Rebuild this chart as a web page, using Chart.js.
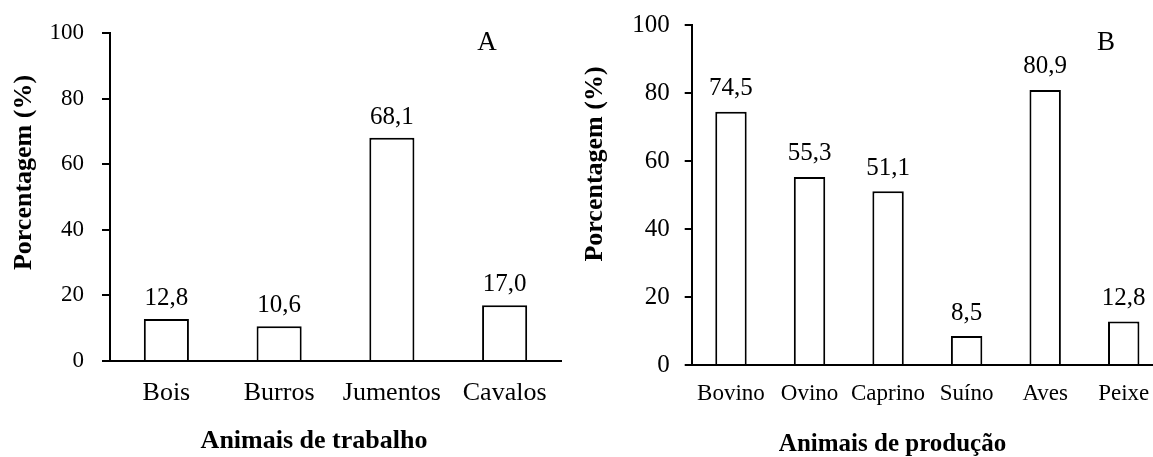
<!DOCTYPE html>
<html>
<head>
<meta charset="utf-8">
<script src="https://cdn.jsdelivr.net/npm/chart.js@4.4.1/dist/chart.umd.min.js"></script>
<style>
  html, body { margin: 0; padding: 0; background: #fff; overflow: hidden; }
  #wrap { position: relative; width: 1153px; height: 457px; overflow: hidden; }
  .panel { position: absolute; top: 0; height: 457px; }
  #panelA { left: 0; width: 575px; }
  #panelB { left: 575px; width: 600px; }
</style>
</head>
<body>
<div id="wrap">
  <div class="panel" id="panelA"><canvas id="chartA" width="575" height="457"></canvas></div>
  <div class="panel" id="panelB"><canvas id="chartB" width="600" height="457"></canvas></div>
</div>
<script>
// data
const workCategories = ['Bois', 'Burros', 'Jumentos', 'Cavalos'];
const workValues = [12.8, 10.6, 68.1, 17.0];
const prodCategories = ['Bovino', 'Ovino', 'Caprino', 'Suíno', 'Aves', 'Peixe'];
const prodValues = [74.5, 55.3, 51.1, 8.5, 80.9, 12.8];
const yTicks = [0, 20, 40, 60, 80, 100];

const SERIF = "'Liberation Serif', 'Times New Roman', Times, serif";
Chart.defaults.font.family = SERIF;
Chart.defaults.color = '#000';

const fmt = v => v.toFixed(1).replace('.', ',');

// value labels above each bar
const barLabels = {
  id: 'barLabels',
  afterDatasetsDraw(chart, args, opts) {
    const ctx = chart.ctx;
    const meta = chart.getDatasetMeta(0);
    const data = chart.data.datasets[0].data;
    ctx.save();
    ctx.font = opts.size + 'px ' + SERIF;
    ctx.fillStyle = '#000';
    ctx.textAlign = 'center';
    ctx.textBaseline = 'alphabetic';
    meta.data.forEach((bar, i) => {
      ctx.fillText(fmt(data[i]), bar.x, bar.y - opts.gap);
    });
    ctx.restore();
  }
};

// axis titles + panel letter
const panelText = {
  id: 'panelText',
  afterDraw(chart, args, opts) {
    const ctx = chart.ctx;
    ctx.save();
    ctx.fillStyle = '#000';
    ctx.textAlign = 'center';
    ctx.textBaseline = 'alphabetic';
    ctx.font = opts.letter.size + 'px ' + SERIF;
    ctx.fillText(opts.letter.text, opts.letter.x, opts.letter.y);
    ctx.font = 'bold ' + opts.xTitle.size + 'px ' + SERIF;
    ctx.fillText(opts.xTitle.text, opts.xTitle.x, opts.xTitle.y);
    ctx.translate(opts.yTitle.x, opts.yTitle.y);
    ctx.rotate(-Math.PI / 2);
    ctx.font = 'bold ' + opts.yTitle.size + 'px ' + SERIF;
    ctx.fillText(opts.yTitle.text, 0, 0);
    ctx.restore();
  }
};

function panelConfig(cats, vals, p) {
  return {
    type: 'bar',
    data: {
      labels: cats,
      datasets: [{
        data: vals,
        backgroundColor: '#fff',
        borderColor: '#000',
        borderWidth: 2,
        borderSkipped: 'start',
        categoryPercentage: 1,
        barPercentage: 0.4
      }]
    },
    options: {
      responsive: false,
      animation: false,
      devicePixelRatio: 1,
      layout: { padding: p.pad },
      plugins: {
        legend: { display: false },
        tooltip: { enabled: false },
        barLabels: p.barLabels,
        panelText: p.text
      },
      scales: {
        x: {
          grid: { display: false, drawTicks: false },
          border: { display: true, color: '#000', width: 2 },
          ticks: { font: { size: p.catSize }, padding: p.catPad, color: '#000', maxRotation: 0, autoSkip: false },
          afterFit(s) { s.height = p.xHeight; }
        },
        y: {
          min: 0,
          max: 100,
          grid: { display: true, drawOnChartArea: false, drawTicks: true, tickLength: p.tickLen, color: '#000', lineWidth: 2 },
          border: { display: true, color: '#000', width: 2 },
          ticks: { font: { size: p.tickSize }, padding: p.tickPad, color: '#000', stepSize: 20 },
          afterBuildTicks(s) { s.ticks = yTicks.map(v => ({ value: v })); },
          afterFit(s) {
            s.width = p.yWidth;
            // keep the plot top/bottom where layout padding puts them
            s.paddingTop = 0;
            s.paddingBottom = 0;
          }
        }
      }
    },
    plugins: [barLabels, panelText]
  };
}

new Chart(document.getElementById('chartA'), panelConfig(workCategories, workValues, {
  pad: { left: 0, top: 33, right: 14, bottom: 36 },
  xHeight: 60,
  yWidth: 110,
  tickLen: 8,
  tickSize: 23,
  tickPad: 18,
  catSize: 26,
  catPad: 17,
  barLabels: { size: 25, gap: 14 },
  text: {
    letter: { text: 'A', size: 27, x: 487, y: 50 },
    xTitle: { text: 'Animais de trabalho', size: 26, x: 314, y: 448 },
    yTitle: { text: 'Porcentagem (%)', size: 26, x: 30.5, y: 172.5 }
  }
}));

new Chart(document.getElementById('chartB'), panelConfig(prodCategories, prodValues, {
  pad: { left: 0, top: 25, right: 12, bottom: 32 },
  xHeight: 60,
  yWidth: 116.7,
  tickLen: 7,
  tickSize: 25,
  tickPad: 15,
  catSize: 23,
  catPad: 15,
  barLabels: { size: 25, gap: 16.5 },
  text: {
    letter: { text: 'B', size: 27, x: 531, y: 50 },
    xTitle: { text: 'Animais de produção', size: 25, x: 317.5, y: 451 },
    yTitle: { text: 'Porcentagem (%)', size: 26, x: 27, y: 164 }
  }
}));
</script>
</body>
</html>
